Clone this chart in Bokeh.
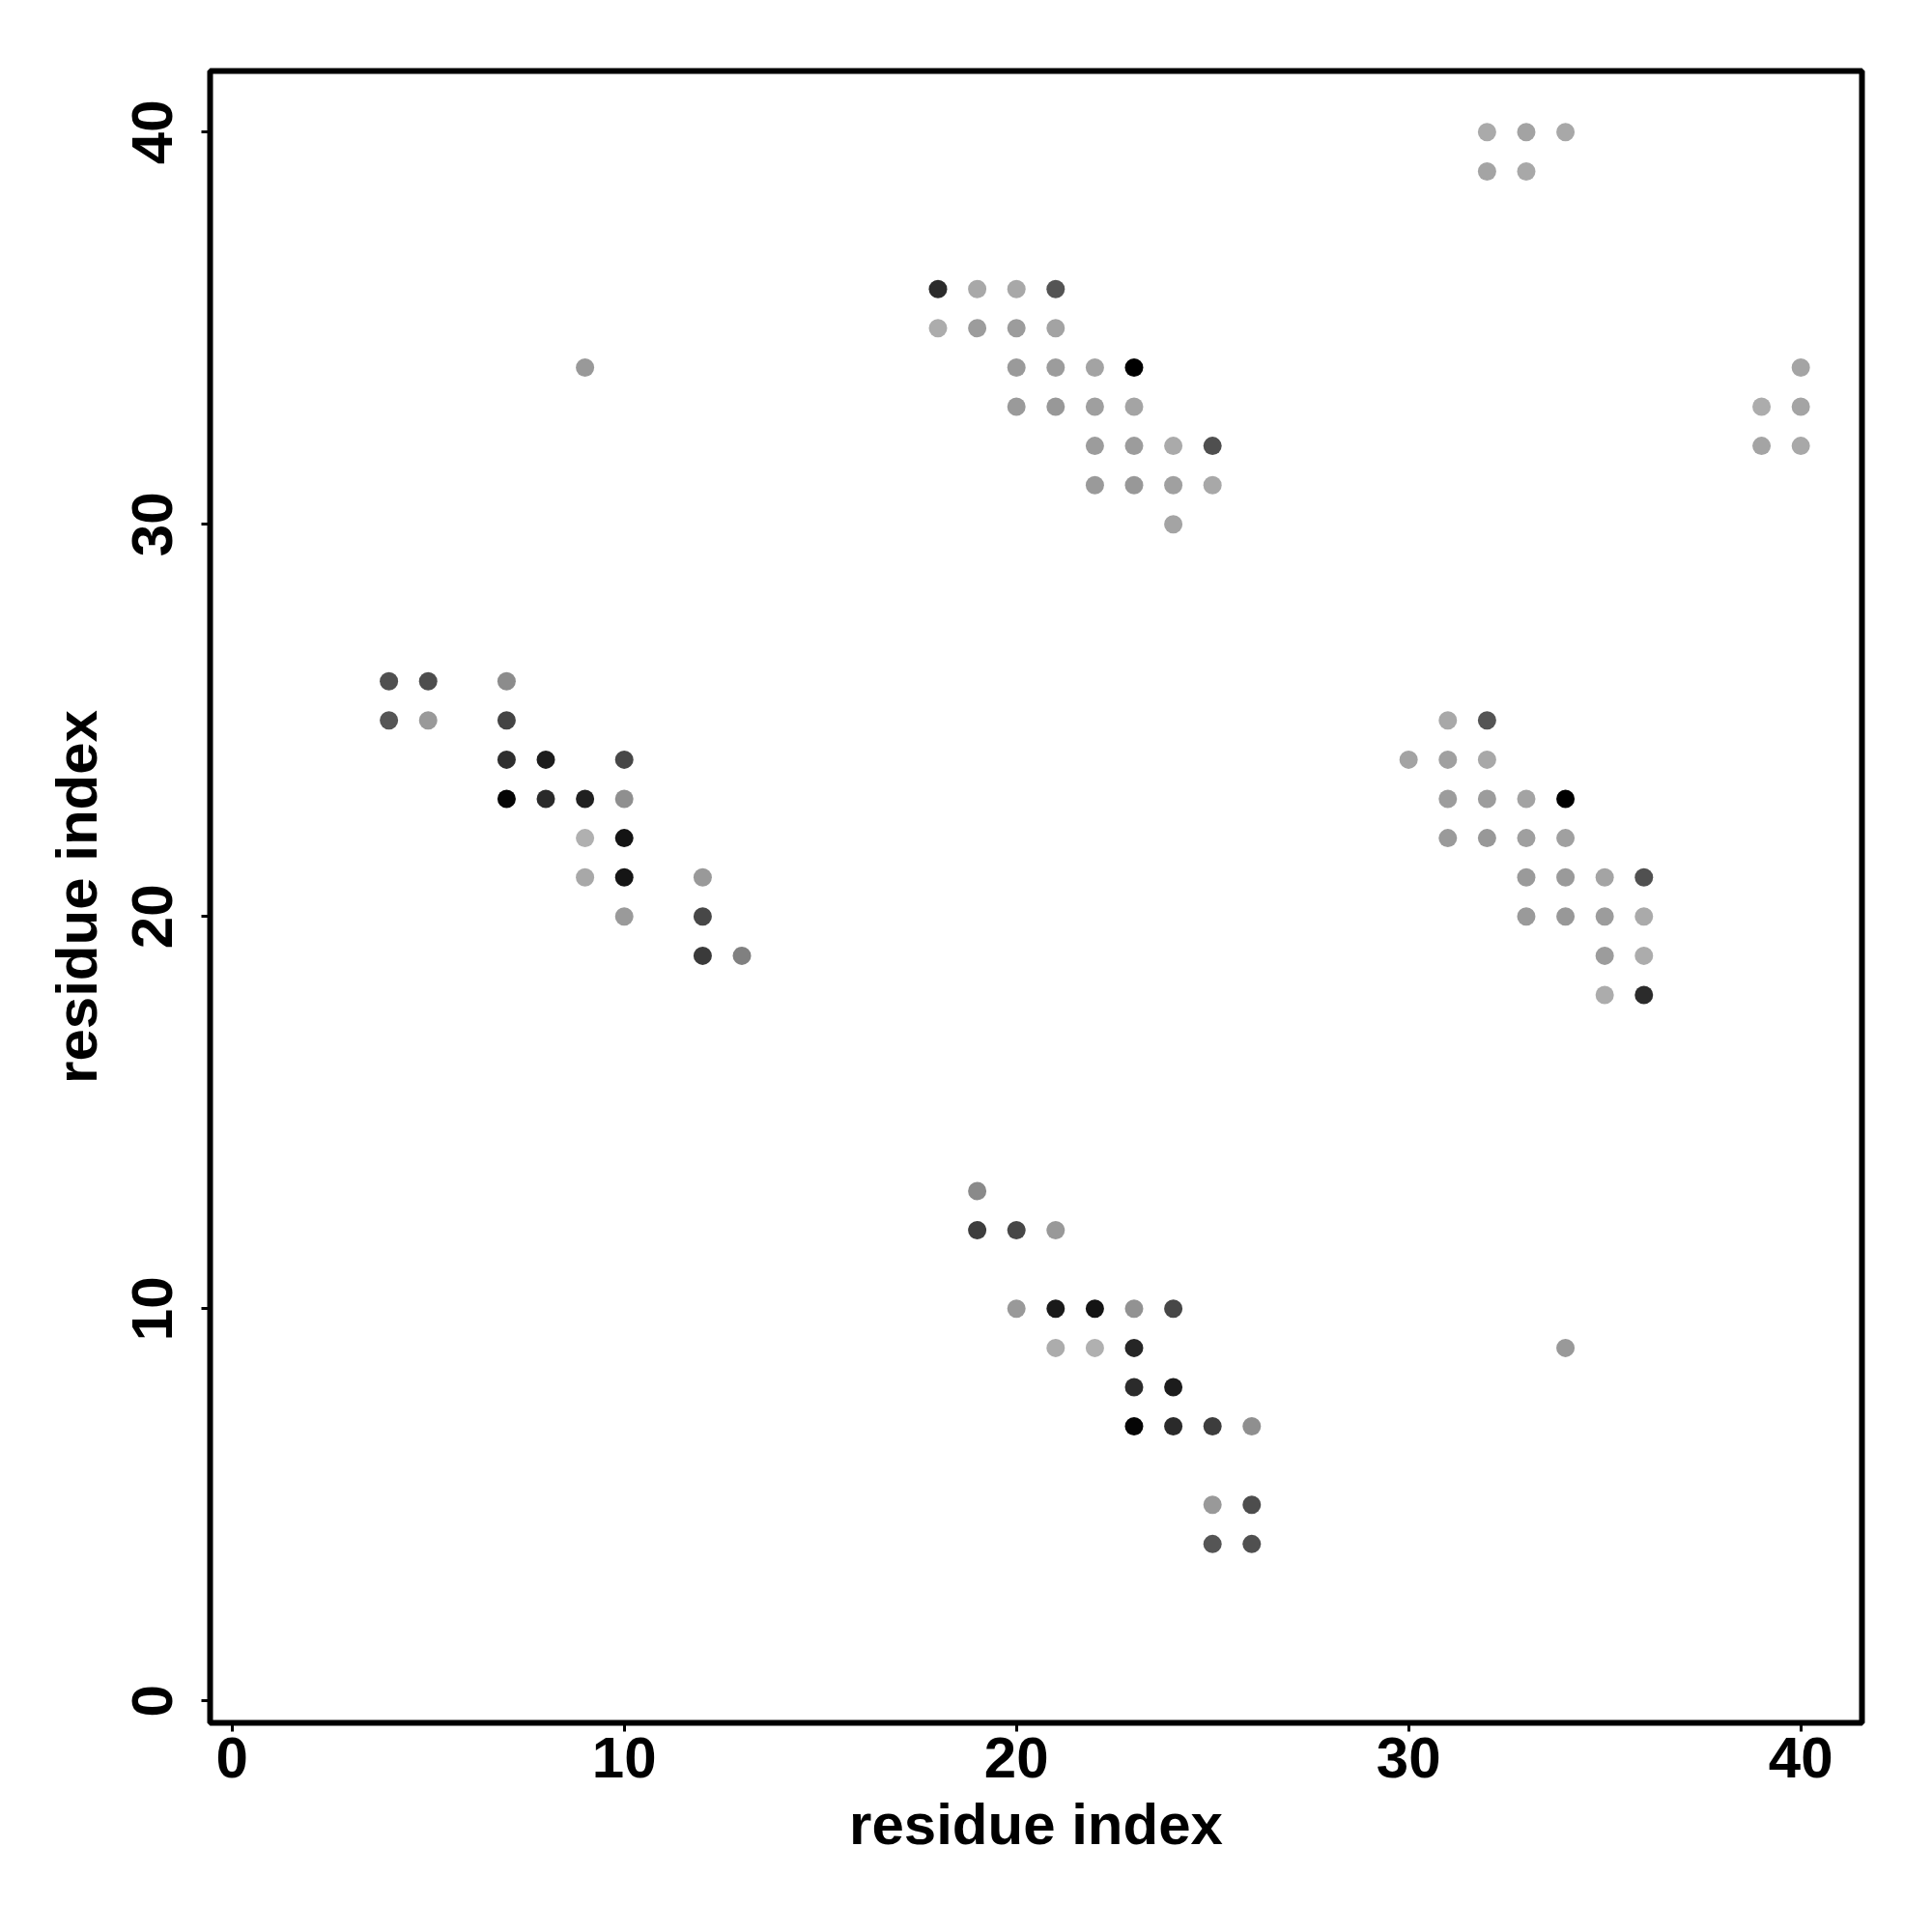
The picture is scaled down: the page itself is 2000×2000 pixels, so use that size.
from bokeh.plotting import figure
from bokeh.embed import file_html
from bokeh.resources import INLINE
from bokeh.models import FixedTicker, ColumnDataSource, Range1d

# residue contact map: x residue, y residue, gray level (0=black, 255=white)
res_x = [32, 33, 34, 32, 33,
         40, 39, 40, 39, 40,
         18, 19, 20, 21,
         18, 19, 20, 21,
         20, 21, 22, 23,
         20, 21, 22, 23,
         22, 23, 24, 25,
         22, 23, 24, 25,
         24,
         9,
         4, 5, 7,
         4, 5, 7,
         7, 8, 10,
         7, 8, 9, 10,
         9, 10,
         9, 10, 12,
         10, 12,
         12, 13,
         31, 32,
         30, 31, 32,
         31, 32, 33, 34,
         31, 32, 33, 34,
         33, 34, 35, 36,
         33, 34, 35, 36,
         35, 36,
         35, 36,
         19,
         19, 20, 21,
         20, 21, 22, 23, 24,
         21, 22, 23,
         23, 24,
         23, 24, 25, 26,
         25, 26,
         25, 26,
         34]
res_y = [40, 40, 40, 39, 39,
         34, 33, 33, 32, 32,
         36, 36, 36, 36,
         35, 35, 35, 35,
         34, 34, 34, 34,
         33, 33, 33, 33,
         32, 32, 32, 32,
         31, 31, 31, 31,
         30,
         34,
         26, 26, 26,
         25, 25, 25,
         24, 24, 24,
         23, 23, 23, 23,
         22, 22,
         21, 21, 21,
         20, 20,
         19, 19,
         25, 25,
         24, 24, 24,
         23, 23, 23, 23,
         22, 22, 22, 22,
         21, 21, 21, 21,
         20, 20, 20, 20,
         19, 19,
         18, 18,
         13,
         12, 12, 12,
         10, 10, 10, 10, 10,
         9, 9, 9,
         8, 8,
         7, 7, 7, 7,
         5, 5,
         4, 4,
         9]
gray = [170, 163, 168, 164, 168,
        164, 172, 164, 164, 168,
        43, 168, 168, 84,
        172, 156, 156, 163,
        154, 156, 163, 0,
        154, 152, 159, 164,
        156, 156, 170, 79,
        154, 152, 160, 168,
        164,
        153,
        80, 77, 140,
        85, 153, 68,
        46, 28, 71,
        5, 42, 32, 143,
        176, 20,
        168, 21, 153,
        154, 71,
        58, 128,
        168, 84,
        163, 160, 168,
        156, 156, 163, 0,
        154, 152, 159, 160,
        154, 154, 164, 80,
        154, 152, 156, 170,
        156, 172,
        172, 43,
        138,
        61, 71, 153,
        153, 26, 20, 146, 71,
        172, 176, 38,
        43, 28,
        5, 42, 61, 143,
        153, 77,
        85, 80,
        153]

tick_values = [0, 10, 20, 30, 40]
axis_title = "residue index"

colors = ["#%02x%02x%02x" % (g, g, g) for g in gray]
src = ColumnDataSource(dict(x=res_x, y=res_y, c=colors))

FONT = "Liberation Sans"

p = figure(width=1960, height=1960, output_backend="svg", toolbar_location=None,
           x_range=Range1d(-0.56, 41.56), y_range=Range1d(-0.56, 41.56),
           min_border_left=217, min_border_right=33, min_border_top=73, min_border_bottom=177)

p.scatter("x", "y", source=src, size=19, fill_color="c", line_color=None)

p.xgrid.visible = False
p.ygrid.visible = False
p.outline_line_color = "black"
p.outline_line_width = 6
p.background_fill_color = "white"
p.border_fill_color = "white"

for ax in (p.xaxis[0], p.yaxis[0]):
    ax.ticker = FixedTicker(ticks=tick_values)
    ax.minor_tick_line_color = None
    ax.axis_line_color = None
    ax.major_tick_line_color = "black"
    ax.major_tick_line_width = 3
    ax.major_tick_out = 9
    ax.major_tick_in = 0
    ax.major_label_text_font = FONT
    ax.major_label_text_font_style = "bold"
    ax.major_label_text_font_size = "60px"
    ax.major_label_text_color = "black"
    ax.axis_label = axis_title
    ax.axis_label_text_font = FONT
    ax.axis_label_text_font_style = "bold"
    ax.axis_label_text_font_size = "60px"
    ax.axis_label_text_color = "black"

p.xaxis[0].major_label_standoff = 6
p.xaxis[0].axis_label_standoff = 12
p.yaxis[0].major_label_orientation = "vertical"
p.yaxis[0].major_label_standoff = 30
p.yaxis[0].axis_label_standoff = 22

open("out.html", "w").write(file_html(p, INLINE))
